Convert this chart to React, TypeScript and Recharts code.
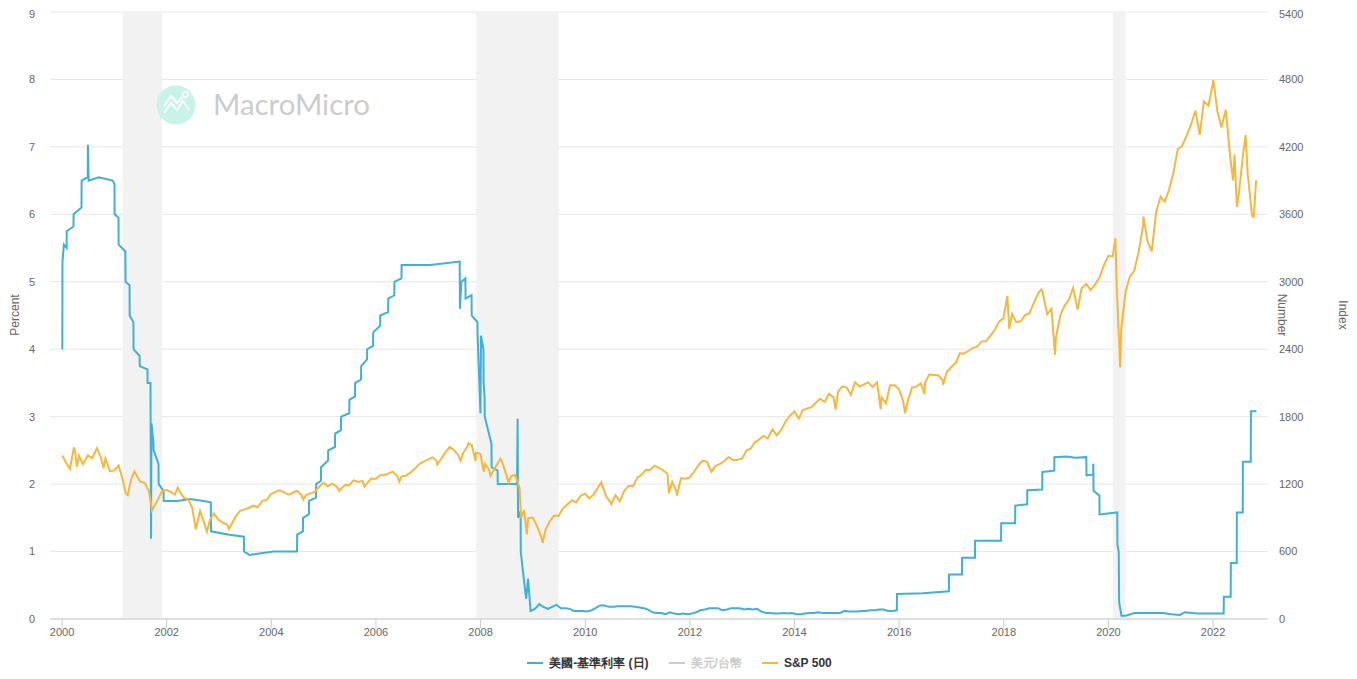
import React from "react";
import {
  ComposedChart,
  Line,
  XAxis,
  YAxis,
  CartesianGrid,
  ReferenceArea,
} from "recharts";

// 美國-基準利率 (日), percent – [date, value]
const rateSeries: [string, number][] = [
  ["2000-01-03", 4.0], ["2000-01-04", 5.3], ["2000-01-14", 5.55], ["2000-02-02", 5.5],
  ["2000-02-03", 5.75], ["2000-03-21", 5.82], ["2000-03-22", 6.0], ["2000-05-16", 6.1],
  ["2000-05-17", 6.5], ["2000-06-29", 6.55], ["2000-06-30", 7.03], ["2000-07-05", 6.5],
  ["2000-09-15", 6.55], ["2000-12-20", 6.5], ["2001-01-02", 6.45], ["2001-01-03", 6.0],
  ["2001-01-30", 5.95], ["2001-01-31", 5.55], ["2001-03-19", 5.45], ["2001-03-20", 5.0],
  ["2001-04-17", 4.95], ["2001-04-18", 4.5], ["2001-05-14", 4.4], ["2001-05-15", 4.0],
  ["2001-06-26", 3.9], ["2001-06-27", 3.75], ["2001-08-20", 3.7], ["2001-08-21", 3.5],
  ["2001-09-10", 3.5], ["2001-09-12", 2.4], ["2001-09-14", 1.19], ["2001-09-17", 2.9],
  ["2001-10-01", 2.6], ["2001-10-02", 2.5], ["2001-11-05", 2.3], ["2001-11-06", 2.0],
  ["2001-12-10", 1.9], ["2001-12-11", 1.75], ["2002-03-15", 1.75], ["2002-06-14", 1.78],
  ["2002-09-13", 1.75], ["2002-11-05", 1.73], ["2002-11-06", 1.3], ["2003-03-14", 1.25],
  ["2003-06-24", 1.22], ["2003-06-25", 1.0], ["2003-08-01", 0.95], ["2004-01-15", 1.0],
  ["2004-06-29", 1.0], ["2004-06-30", 1.25], ["2004-08-09", 1.3], ["2004-08-10", 1.5],
  ["2004-09-20", 1.55], ["2004-09-21", 1.75], ["2004-11-09", 1.8], ["2004-11-10", 2.0],
  ["2004-12-13", 2.05], ["2004-12-14", 2.25], ["2005-02-01", 2.35], ["2005-02-02", 2.5],
  ["2005-03-21", 2.55], ["2005-03-22", 2.75], ["2005-05-02", 2.8], ["2005-05-03", 3.0],
  ["2005-06-29", 3.05], ["2005-06-30", 3.25], ["2005-08-08", 3.3], ["2005-08-09", 3.5],
  ["2005-09-19", 3.55], ["2005-09-20", 3.75], ["2005-10-31", 3.85], ["2005-11-01", 4.0],
  ["2005-12-12", 4.05], ["2005-12-13", 4.25], ["2006-01-30", 4.35], ["2006-01-31", 4.5],
  ["2006-03-27", 4.55], ["2006-03-28", 4.75], ["2006-05-09", 4.8], ["2006-05-10", 5.0],
  ["2006-06-28", 5.05], ["2006-06-29", 5.25], ["2007-01-15", 5.25], ["2007-08-08", 5.3],
  ["2007-08-10", 4.6], ["2007-08-20", 5.0], ["2007-09-17", 5.05], ["2007-09-18", 4.75],
  ["2007-10-30", 4.8], ["2007-10-31", 4.5], ["2007-12-10", 4.4], ["2007-12-11", 4.2],
  ["2007-12-31", 3.05], ["2008-01-04", 4.2], ["2008-01-21", 4.0], ["2008-01-22", 3.5],
  ["2008-01-29", 3.3], ["2008-01-30", 3.0], ["2008-03-17", 2.6], ["2008-03-18", 2.25],
  ["2008-04-29", 2.2], ["2008-04-30", 2.0], ["2008-09-12", 2.0], ["2008-09-16", 2.97],
  ["2008-09-19", 1.5], ["2008-10-07", 1.6], ["2008-10-08", 1.0], ["2008-10-29", 0.6],
  ["2008-11-15", 0.3], ["2008-11-28", 0.6], ["2008-12-16", 0.12],
  ["2009-01-15", 0.15], ["2009-02-15", 0.22], ["2009-03-15", 0.18], ["2009-04-15", 0.15],
  ["2009-05-15", 0.18], ["2009-06-15", 0.21], ["2009-07-15", 0.16], ["2009-08-15", 0.16],
  ["2009-09-15", 0.15], ["2009-10-15", 0.12], ["2009-11-15", 0.12], ["2009-12-15", 0.12],
  ["2010-01-15", 0.11], ["2010-02-15", 0.13], ["2010-03-15", 0.16], ["2010-04-15", 0.2],
  ["2010-05-15", 0.2], ["2010-06-15", 0.18], ["2010-07-15", 0.18], ["2010-08-15", 0.19],
  ["2010-09-15", 0.19], ["2010-10-15", 0.19], ["2010-11-15", 0.19], ["2010-12-15", 0.18],
  ["2011-01-15", 0.17], ["2011-02-15", 0.16], ["2011-03-15", 0.14], ["2011-04-15", 0.1],
  ["2011-05-15", 0.09], ["2011-06-15", 0.09], ["2011-07-15", 0.07], ["2011-08-15", 0.1],
  ["2011-09-15", 0.08], ["2011-10-15", 0.07], ["2011-11-15", 0.08], ["2011-12-15", 0.07],
  ["2012-01-15", 0.08], ["2012-02-15", 0.1], ["2012-03-15", 0.13], ["2012-04-15", 0.14],
  ["2012-05-15", 0.16], ["2012-06-15", 0.16], ["2012-07-15", 0.16], ["2012-08-15", 0.13],
  ["2012-09-15", 0.14], ["2012-10-15", 0.16], ["2012-11-15", 0.16], ["2012-12-15", 0.16],
  ["2013-01-15", 0.14], ["2013-02-15", 0.15], ["2013-03-15", 0.14], ["2013-04-15", 0.15],
  ["2013-05-15", 0.11], ["2013-06-15", 0.09], ["2013-07-15", 0.09], ["2013-08-15", 0.08],
  ["2013-09-15", 0.08], ["2013-10-15", 0.09], ["2013-11-15", 0.08], ["2013-12-15", 0.09],
  ["2014-01-15", 0.07], ["2014-02-15", 0.07], ["2014-03-15", 0.08], ["2014-04-15", 0.09],
  ["2014-05-15", 0.09], ["2014-06-15", 0.1], ["2014-07-15", 0.09], ["2014-08-15", 0.09],
  ["2014-09-15", 0.09], ["2014-10-15", 0.09], ["2014-11-15", 0.09], ["2014-12-15", 0.12],
  ["2015-01-15", 0.11], ["2015-02-15", 0.11], ["2015-03-15", 0.11], ["2015-04-15", 0.12],
  ["2015-05-15", 0.12], ["2015-06-15", 0.13], ["2015-07-15", 0.13], ["2015-08-15", 0.14],
  ["2015-09-15", 0.14], ["2015-10-15", 0.12], ["2015-11-15", 0.12], ["2015-12-16", 0.13],
  ["2015-12-17", 0.37], ["2016-06-15", 0.38], ["2016-12-14", 0.41], ["2016-12-15", 0.66],
  ["2017-03-15", 0.66], ["2017-03-16", 0.91], ["2017-06-14", 0.91], ["2017-06-15", 1.16],
  ["2017-12-13", 1.16], ["2017-12-14", 1.42], ["2018-03-21", 1.42], ["2018-03-22", 1.68],
  ["2018-06-13", 1.7], ["2018-06-14", 1.91], ["2018-09-26", 1.92], ["2018-09-27", 2.18],
  ["2018-12-19", 2.2], ["2018-12-20", 2.4], ["2019-03-15", 2.41], ["2019-05-15", 2.39],
  ["2019-07-31", 2.4], ["2019-08-01", 2.13], ["2019-09-16", 2.14], ["2019-09-17", 2.3],
  ["2019-09-18", 2.25], ["2019-09-19", 1.9], ["2019-10-30", 1.83], ["2019-10-31", 1.55],
  ["2020-03-03", 1.58], ["2020-03-04", 1.1], ["2020-03-13", 1.0], ["2020-03-16", 0.25],
  ["2020-04-01", 0.05], ["2020-05-01", 0.05], ["2020-07-01", 0.09], ["2020-10-15", 0.09],
  ["2021-01-15", 0.09], ["2021-03-15", 0.07], ["2021-05-15", 0.06], ["2021-06-17", 0.1],
  ["2021-09-15", 0.08], ["2021-12-15", 0.08], ["2022-03-16", 0.08], ["2022-03-17", 0.33],
  ["2022-05-04", 0.33], ["2022-05-05", 0.83], ["2022-06-15", 0.83], ["2022-06-16", 1.58],
  ["2022-07-27", 1.58], ["2022-07-28", 2.33], ["2022-09-21", 2.33], ["2022-09-22", 3.08],
  ["2022-10-31", 3.08],
];

// S&P 500, index – [date, value]
const spxSeries: [string, number][] = [
  ["2000-01-03", 1455], ["2000-01-28", 1394], ["2000-02-25", 1333], ["2000-03-24", 1527],
  ["2000-03-31", 1499], ["2000-04-14", 1356], ["2000-04-28", 1452], ["2000-05-26", 1378],
  ["2000-06-30", 1455], ["2000-07-31", 1431], ["2000-09-01", 1520], ["2000-09-29", 1437],
  ["2000-10-18", 1342], ["2000-10-31", 1429], ["2000-11-30", 1315], ["2000-12-29", 1320],
  ["2001-01-31", 1366], ["2001-02-28", 1240], ["2001-03-22", 1118], ["2001-04-04", 1103],
  ["2001-04-30", 1249], ["2001-05-21", 1312], ["2001-06-29", 1224], ["2001-07-31", 1211],
  ["2001-08-31", 1134], ["2001-09-21", 966], ["2001-10-31", 1060], ["2001-11-30", 1139],
  ["2001-12-31", 1148], ["2002-01-31", 1130], ["2002-02-28", 1107], ["2002-03-19", 1170],
  ["2002-04-30", 1077], ["2002-05-31", 1067], ["2002-06-28", 990], ["2002-07-23", 797],
  ["2002-08-22", 962], ["2002-09-30", 815], ["2002-10-09", 777], ["2002-10-31", 886],
  ["2002-11-27", 938], ["2002-12-31", 880], ["2003-01-31", 856], ["2003-02-28", 841],
  ["2003-03-11", 800], ["2003-03-31", 848], ["2003-04-30", 917], ["2003-05-30", 964],
  ["2003-06-30", 975], ["2003-07-31", 990], ["2003-08-29", 1008], ["2003-09-30", 996],
  ["2003-10-31", 1051], ["2003-11-28", 1058], ["2003-12-31", 1112], ["2004-01-30", 1131],
  ["2004-02-27", 1145], ["2004-03-31", 1126], ["2004-04-30", 1107], ["2004-05-28", 1121],
  ["2004-06-30", 1141], ["2004-07-30", 1102], ["2004-08-12", 1063], ["2004-08-31", 1104],
  ["2004-09-30", 1115], ["2004-10-29", 1130], ["2004-11-30", 1174], ["2004-12-31", 1212],
  ["2005-01-31", 1181], ["2005-02-28", 1204], ["2005-03-31", 1181], ["2005-04-20", 1138],
  ["2005-04-29", 1157], ["2005-05-31", 1192], ["2005-06-30", 1191], ["2005-07-29", 1234],
  ["2005-08-31", 1220], ["2005-09-30", 1229], ["2005-10-13", 1177], ["2005-10-31", 1207],
  ["2005-11-30", 1249], ["2005-12-30", 1248], ["2006-01-31", 1280], ["2006-02-28", 1281],
  ["2006-03-31", 1295], ["2006-04-28", 1311], ["2006-05-31", 1270], ["2006-06-13", 1223],
  ["2006-06-30", 1270], ["2006-07-31", 1277], ["2006-08-31", 1304], ["2006-09-29", 1336],
  ["2006-10-31", 1378], ["2006-11-30", 1401], ["2006-12-29", 1418], ["2007-01-31", 1438],
  ["2007-02-28", 1407], ["2007-03-05", 1374], ["2007-03-30", 1421], ["2007-04-30", 1482],
  ["2007-05-31", 1531], ["2007-06-29", 1503], ["2007-07-31", 1455], ["2007-08-15", 1407],
  ["2007-08-31", 1474], ["2007-09-28", 1527], ["2007-10-09", 1565], ["2007-10-31", 1549],
  ["2007-11-26", 1407], ["2007-11-30", 1481], ["2007-12-31", 1468], ["2008-01-23", 1310],
  ["2008-01-31", 1379], ["2008-02-29", 1331], ["2008-03-10", 1273], ["2008-03-31", 1323],
  ["2008-04-30", 1386], ["2008-05-19", 1426], ["2008-05-30", 1400], ["2008-06-30", 1280],
  ["2008-07-15", 1215], ["2008-07-31", 1267], ["2008-08-29", 1283], ["2008-09-30", 1166],
  ["2008-10-10", 899], ["2008-10-31", 969], ["2008-11-20", 752], ["2008-11-28", 896],
  ["2008-12-31", 903], ["2009-01-30", 826], ["2009-02-27", 735], ["2009-03-09", 677],
  ["2009-03-31", 798], ["2009-04-30", 873], ["2009-05-29", 919], ["2009-06-30", 919],
  ["2009-07-31", 987], ["2009-08-31", 1021], ["2009-09-30", 1057], ["2009-10-30", 1036],
  ["2009-11-30", 1096], ["2009-12-31", 1115], ["2010-01-29", 1074], ["2010-02-26", 1104],
  ["2010-03-31", 1169], ["2010-04-23", 1217], ["2010-04-30", 1187], ["2010-05-28", 1089],
  ["2010-06-30", 1031], ["2010-07-02", 1022], ["2010-07-30", 1102], ["2010-08-31", 1049],
  ["2010-09-30", 1141], ["2010-10-29", 1183], ["2010-11-30", 1181], ["2010-12-31", 1258],
  ["2011-01-31", 1286], ["2011-02-28", 1327], ["2011-03-31", 1326], ["2011-04-29", 1364],
  ["2011-05-31", 1345], ["2011-06-30", 1321], ["2011-07-29", 1292], ["2011-08-08", 1119],
  ["2011-08-31", 1219], ["2011-09-30", 1131], ["2011-10-03", 1099], ["2011-10-31", 1253],
  ["2011-11-30", 1247], ["2011-12-30", 1258], ["2012-01-31", 1312], ["2012-02-29", 1366],
  ["2012-03-30", 1408], ["2012-04-30", 1398], ["2012-05-31", 1310], ["2012-06-29", 1362],
  ["2012-07-31", 1379], ["2012-08-31", 1407], ["2012-09-28", 1441], ["2012-10-31", 1412],
  ["2012-11-30", 1416], ["2012-12-31", 1426], ["2013-01-31", 1498], ["2013-02-28", 1515],
  ["2013-03-28", 1569], ["2013-04-30", 1598], ["2013-05-31", 1631], ["2013-06-28", 1606],
  ["2013-07-31", 1686], ["2013-08-30", 1633], ["2013-09-30", 1682], ["2013-10-31", 1757],
  ["2013-11-29", 1806], ["2013-12-31", 1848], ["2014-01-31", 1783], ["2014-02-28", 1859],
  ["2014-03-31", 1872], ["2014-04-30", 1884], ["2014-05-30", 1924], ["2014-06-30", 1960],
  ["2014-07-31", 1931], ["2014-08-29", 2003], ["2014-09-30", 1972], ["2014-10-15", 1862],
  ["2014-10-31", 2018], ["2014-11-28", 2068], ["2014-12-31", 2059], ["2015-01-30", 1995],
  ["2015-02-27", 2105], ["2015-03-31", 2068], ["2015-04-30", 2086], ["2015-05-29", 2107],
  ["2015-06-30", 2063], ["2015-07-31", 2104], ["2015-08-25", 1868], ["2015-08-31", 1972],
  ["2015-09-30", 1920], ["2015-10-30", 2079], ["2015-11-30", 2080], ["2015-12-31", 2044],
  ["2016-01-29", 1940], ["2016-02-11", 1829], ["2016-02-29", 1932], ["2016-03-31", 2060],
  ["2016-04-29", 2065], ["2016-05-31", 2097], ["2016-06-27", 2001], ["2016-06-30", 2099],
  ["2016-07-29", 2174], ["2016-08-31", 2171], ["2016-09-30", 2168], ["2016-10-31", 2126],
  ["2016-11-04", 2085], ["2016-11-30", 2199], ["2016-12-30", 2239], ["2017-01-31", 2279],
  ["2017-02-28", 2364], ["2017-03-31", 2363], ["2017-04-28", 2384], ["2017-05-31", 2412],
  ["2017-06-30", 2423], ["2017-07-31", 2470], ["2017-08-31", 2472], ["2017-09-29", 2519],
  ["2017-10-31", 2575], ["2017-11-30", 2648], ["2017-12-29", 2674], ["2018-01-26", 2873],
  ["2018-02-08", 2581], ["2018-02-28", 2714], ["2018-03-29", 2641], ["2018-04-30", 2648],
  ["2018-05-31", 2705], ["2018-06-29", 2718], ["2018-07-31", 2816], ["2018-08-31", 2902],
  ["2018-09-20", 2931], ["2018-09-28", 2914], ["2018-10-31", 2712], ["2018-11-30", 2760],
  ["2018-12-24", 2351], ["2018-12-31", 2507], ["2019-01-31", 2704], ["2019-02-28", 2784],
  ["2019-03-29", 2834], ["2019-04-30", 2946], ["2019-05-31", 2752], ["2019-06-28", 2942],
  ["2019-07-31", 2980], ["2019-08-30", 2926], ["2019-09-30", 2977], ["2019-10-31", 3038],
  ["2019-11-29", 3141], ["2019-12-31", 3231], ["2020-01-31", 3226], ["2020-02-19", 3386],
  ["2020-02-28", 2954], ["2020-03-23", 2237], ["2020-03-31", 2585], ["2020-04-30", 2912],
  ["2020-05-29", 3044], ["2020-06-30", 3100], ["2020-07-31", 3271], ["2020-08-31", 3500],
  ["2020-09-02", 3580], ["2020-09-30", 3363], ["2020-10-30", 3270], ["2020-11-30", 3622],
  ["2020-12-31", 3756], ["2021-01-29", 3714], ["2021-02-26", 3811], ["2021-03-31", 3973],
  ["2021-04-30", 4181], ["2021-05-28", 4204], ["2021-06-30", 4298], ["2021-07-30", 4395],
  ["2021-08-31", 4523], ["2021-09-30", 4308], ["2021-10-29", 4605], ["2021-11-30", 4567],
  ["2021-12-31", 4766], ["2022-01-03", 4797], ["2022-01-31", 4516], ["2022-02-28", 4374],
  ["2022-03-31", 4530], ["2022-04-29", 4132], ["2022-05-20", 3901], ["2022-05-31", 4132],
  ["2022-06-16", 3667], ["2022-06-30", 3785], ["2022-07-29", 4130], ["2022-08-16", 4305],
  ["2022-08-31", 3955], ["2022-09-30", 3586], ["2022-10-12", 3577], ["2022-10-28", 3901],
  ["2022-10-31", 3872],
];

// NBER recessions (shaded)
const recessions: [string, string][] = [
  ["2001-03-01", "2001-11-30"],
  ["2007-12-01", "2009-06-30"],
  ["2020-02-01", "2020-04-30"],
];

const yearTicks = [2000, 2002, 2004, 2006, 2008, 2010, 2012, 2014, 2016, 2018, 2020, 2022];
const percentTicks = [0, 1, 2, 3, 4, 5, 6, 7, 8, 9];
const indexTicks = [0, 600, 1200, 1800, 2400, 3000, 3600, 4200, 4800, 5400];

const legendItems = [
  { name: "美國-基準利率 (日)", color: "#3eb0d9", hidden: false },
  { name: "美元/台幣", color: "#cccccc", hidden: true },
  { name: "S&P 500", color: "#f6b73c", hidden: false },
];

const FONT = '"Liberation Sans", Arial, Helvetica, sans-serif';

function toYear(d: string): number {
  const [y, m, dd] = d.split("-").map(Number);
  const start = Date.UTC(y, 0, 1);
  const end = Date.UTC(y + 1, 0, 1);
  return y + (Date.UTC(y, m - 1, dd) - start) / (end - start);
}

function buildRows() {
  const map = new Map<number, { t: number; rate?: number; spx?: number }>();
  const put = (d: string, key: "rate" | "spx", v: number) => {
    const t = toYear(d);
    const row = map.get(t) || { t };
    row[key] = v;
    map.set(t, row);
  };
  rateSeries.forEach(([d, v]) => put(d, "rate", v));
  spxSeries.forEach(([d, v]) => put(d, "spx", v));
  return Array.from(map.values()).sort((a, b) => a.t - b.t);
}

const rows = buildRows();

function Overlay() {
  // page coordinates (wrapper sits at 8,8 because of body margin)
  return (
    <svg
      width={1357}
      height={679}
      style={{ position: "absolute", left: -8, top: -8, pointerEvents: "none" }}
    >
      {/* watermark */}
      <circle cx={176} cy={105} r={19.5} fill="#c7f3e8" />
      <polyline
        points="164,113 171,103 177,110 183,101 189,110"
        fill="none"
        stroke="#ffffff"
        strokeWidth={2}
        strokeLinejoin="round"
      />
      <polyline
        points="164,106 171,96 177,103 182,97"
        fill="none"
        stroke="#ffffff"
        strokeWidth={2}
        strokeLinejoin="round"
      />
      <circle cx={185.5} cy={94.5} r={2.6} fill="none" stroke="#ffffff" strokeWidth={1.6} />
      <text
        x={213}
        y={115}
        fontFamily="Lato, 'Noto Sans', sans-serif"
        fontSize={28}
        fill="#cccccc"
        textLength={157}
        lengthAdjust="spacingAndGlyphs"
      >
        MacroMicro
      </text>

      {/* axis titles */}
      <text
        x={15}
        y={315}
        transform="rotate(-90 15 315)"
        textAnchor="middle"
        dominantBaseline="central"
        fontFamily={FONT}
        fontSize={12}
        fill="#666666"
      >
        Percent
      </text>
      <text
        x={1282}
        y={315}
        transform="rotate(90 1282 315)"
        textAnchor="middle"
        dominantBaseline="central"
        fontFamily={FONT}
        fontSize={12}
        fill="#666666"
      >
        Number
      </text>
      <text
        x={1343}
        y={315}
        transform="rotate(90 1343 315)"
        textAnchor="middle"
        dominantBaseline="central"
        fontFamily={FONT}
        fontSize={12}
        fill="#666666"
      >
        Index
      </text>
    </svg>
  );
}

function LegendRow() {
  return (
    <div
      style={{
        position: "absolute",
        left: 0,
        width: 1341,
        top: 646,
        height: 18,
        display: "flex",
        justifyContent: "center",
        alignItems: "center",
        fontFamily: FONT,
        fontSize: 12,
        fontWeight: "bold",
        paddingLeft: 2,
        boxSizing: "border-box",
      }}
    >
      {legendItems.map((it) => (
        <div
          key={it.name}
          style={{ display: "flex", alignItems: "center", margin: "0 10px" }}
        >
          <span
            style={{
              display: "inline-block",
              width: 16,
              height: 2,
              background: it.color,
              marginRight: 6,
            }}
          />
          <span style={{ color: it.hidden ? "#cccccc" : "#333333" }}>{it.name}</span>
        </div>
      ))}
    </div>
  );
}

export default function App() {
  return (
    <div style={{ position: "relative", width: 1341, height: 671, background: "#fff" }}>
      <ComposedChart
        width={1341}
        height={671}
        data={rows}
        margin={{ top: 4, right: 0, bottom: 30, left: 0 }}
      >
        {recessions.map(([a, b]) => (
          <ReferenceArea
            key={a}
            yAxisId="pct"
            x1={toYear(a)}
            x2={toYear(b)}
            y1={0}
            y2={9}
            fill="#f2f2f2"
            fillOpacity={1}
            stroke="none"
          />
        ))}
        <CartesianGrid yAxisId="pct" vertical={false} stroke="#e6e6e6" />
        <XAxis
          dataKey="t"
          type="number"
          domain={[1999.77, 2023.05]}
          allowDataOverflow
          ticks={yearTicks}
          tickFormatter={(v) => String(v)}
          stroke="#cccccc"
          tickSize={9}
          tickMargin={0}
          height={30}
          tick={{ fill: "#666666", fontSize: 11, fontFamily: FONT }}
        />
        <YAxis
          yAxisId="pct"
          orientation="left"
          domain={[0, 9]}
          ticks={percentTicks}
          width={42}
          axisLine={false}
          tickLine={false}
          tickSize={0}
          tickMargin={15}
          tick={{ fill: "#666666", fontSize: 11, fontFamily: FONT }}
        />
        <YAxis
          yAxisId="num"
          orientation="right"
          domain={[0, 1]}
          width={28}
          axisLine={false}
          tickLine={false}
          tick={false}
        />
        <YAxis
          yAxisId="idx"
          orientation="right"
          domain={[0, 5400]}
          ticks={indexTicks}
          width={53}
          axisLine={false}
          tickLine={false}
          tickSize={0}
          tickMargin={11}
          tick={{ fill: "#666666", fontSize: 11, fontFamily: FONT }}
        />
        <Line
          yAxisId="pct"
          dataKey="rate"
          type="linear"
          stroke="#3eb0d9"
          strokeWidth={2}
          dot={false}
          connectNulls
          isAnimationActive={false}
        />
        <Line
          yAxisId="idx"
          dataKey="spx"
          type="linear"
          stroke="#f6b73c"
          strokeWidth={2}
          dot={false}
          connectNulls
          isAnimationActive={false}
        />
      </ComposedChart>
      <Overlay />
      <LegendRow />
    </div>
  );
}
